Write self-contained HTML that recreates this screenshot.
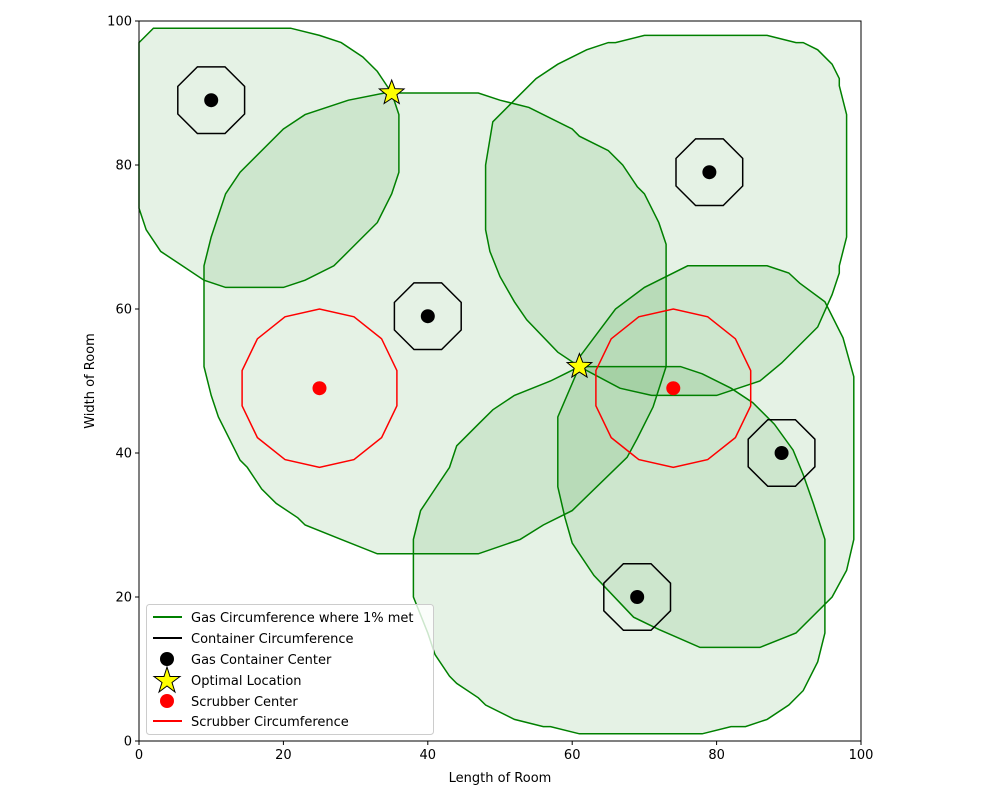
<!DOCTYPE html>
<html><head><meta charset="utf-8"><style>
body{margin:0;background:#fff;}
svg text{font-family:"DejaVu Sans","Liberation Sans",sans-serif;font-size:13px;fill:#000;}
</style></head><body>
<svg id="chart" width="1000" height="800" xmlns="http://www.w3.org/2000/svg">
<rect width="1000" height="800" fill="#fff"/>
<g id="plot"></g>
<g id="axes"></g>
<g id="legend" transform="translate(146,604)">
<rect x="0.5" y="0.5" width="287" height="130" rx="3" fill="#fff" fill-opacity="0.8" stroke="#ccc"/>
<line x1="7" y1="13" x2="36" y2="13" stroke="green" stroke-width="2"/>
<text x="45" y="18">Gas Circumference where 1% met</text>
<line x1="7" y1="34" x2="36" y2="34" stroke="#000" stroke-width="2"/>
<text x="45" y="39">Container Circumference</text>
<circle cx="21" cy="55" r="7" fill="#000"/>
<text x="45" y="60">Gas Container Center</text>
<path d="M21,63 L24,72.5 L34,72.5 L26,78.5 L29,88 L21,82 L13,88 L16,78.5 L8,72.5 L18,72.5 Z" fill="yellow" stroke="#000" stroke-width="1"/>
<text x="45" y="81">Optimal Location</text>
<circle cx="21" cy="97" r="7" fill="red"/>
<text x="45" y="102">Scrubber Center</text>
<line x1="7" y1="117" x2="36" y2="117" stroke="red" stroke-width="2"/>
<text x="45" y="122">Scrubber Circumference</text>
</g>
</svg>
<script>
const gasRegions = [
 [[0,97],[2,99],[21,99],[25,98],[28,97],[31,95],[33,93],[35,90],[36,87],[36,79],[35,76],[33,72],[31,70],[29,68],[27,66],[23,64],[20,63],[12,63],[9,64],[6,66],[3,68],[1,71],[0,74],[0,78]],
 [[9,66],[10,70],[12,76],[14,79],[20,85],[23,87],[29,89],[34,90],[47,90],[50,89],[54,88],[60,85],[61,84],[63,83],[65,82],[67,80],[69,77],[70,76],[72,72],[73,69],[73,66],[73,52],[71.2,46.4],[69,42],[67.6,39.4],[60,32],[56,30],[52.8,28],[47,26],[33,26],[28,28],[23,30],[22,31],[19,33],[17,35],[15,38],[14,39],[11,45],[10,48],[9,52]],
 [[49,86],[52,89],[55,92],[58,94],[62,96],[65,97],[66,97],[70,98],[87,98],[91,97],[92,97],[94,96],[96,94],[97,92],[97,91],[98,87],[98,70],[97,66],[97,65],[96,62],[94,57.5],[89,52.5],[86,50],[80,48],[71,48],[66.6,49],[61,52],[58,54],[53.7,58.5],[52,61],[50,64.5],[48.6,68],[48,71],[48,80]],
 [[58,45],[58,35.3],[59,31],[60,27.5],[63,23],[68.5,17.2],[72,15.5],[77.7,13],[86,13],[91,15],[96,20],[98,23.7],[99,28],[99,50.6],[97.5,56],[95,61],[91.5,63.6],[90,65],[87,66],[76,66],[70,63],[66,60],[63,56],[61,53.3],[61,52]],
 [[61,52],[75,52],[78,51],[82,49],[85,47],[88,44],[90.6,40.4],[92,37],[93.4,33],[95,28],[95,15],[94,11],[92,7],[90,5],[87,3],[84,2],[82,2],[78,1],[61,1],[57,2],[56,2],[52,3],[48,5],[47,6],[44,8],[43,9],[41,12],[40,15],[38,20],[38,28],[39,32],[41,35],[43,38],[44,41],[47,44],[49,46],[52,48],[57,50],[59,51]]
];
const containerX = [10,79,40,89,69];
const containerY = [89,79,59,40,20];
const containerR = [5,5,5,5,5];
const scrubberX = [25,74];
const scrubberY = [49,49];
const scrubberR = [11,11];
const optimalX = [35,61];
const optimalY = [90,52];
const xTicks = [0,20,40,60,80,100];
const yTicks = [0,20,40,60,80,100];

const NS="http://www.w3.org/2000/svg";
const X0=139,X1=861,Y0=741,Y1=21;
function sx(v){return X0+(X1-X0)*v/100;}
function sy(v){return Y0-(Y0-Y1)*v/100;}
const plot=document.getElementById('plot');
const axes=document.getElementById('axes');
function mk(tag,attrs,parent){const e=document.createElementNS(NS,tag);for(const k in attrs)e.setAttribute(k,attrs[k]);parent.appendChild(e);return e;}
function polyPts(pts){return pts.map(p=>sx(p[0]).toFixed(1)+','+sy(p[1]).toFixed(1)).join(' ');}
function circlePts(cx,cy,r,n,rot){const a=[];for(let i=0;i<n;i++){const t=rot+i*2*Math.PI/n;a.push([cx+r*Math.cos(t),cy+r*Math.sin(t)]);}return a;}

gasRegions.forEach((g,i)=>{
 const p=mk('polygon',{points:polyPts(g),fill:'green','fill-opacity':0.1,stroke:'green','stroke-width':1.5},plot);
 
 
});
containerX.forEach((x,i)=>{
 const p=mk('polygon',{points:polyPts(circlePts(x,containerY[i],containerR[i],8,Math.PI/8)),fill:'none',stroke:'#000','stroke-width':1.5},plot);
 
 
 const c=mk('circle',{cx:sx(x),cy:sy(containerY[i]),r:7,fill:'#000'},plot);
 
 
});
scrubberX.forEach((x,i)=>{
 const p=mk('polygon',{points:polyPts(circlePts(x,scrubberY[i],scrubberR[i],14,Math.PI/14)),fill:'none',stroke:'red','stroke-width':1.5},plot);
 
 
 const c=mk('circle',{cx:sx(x),cy:sy(scrubberY[i]),r:7,fill:'red'},plot);
 
 
});
optimalX.forEach((x,i)=>{
 const cx=sx(x),cy=sy(optimalY[i]);const pts=[];
 for(let k=0;k<10;k++){const r=k%2?5.5:13;const t=-Math.PI/2+k*Math.PI/5;pts.push((cx+r*Math.cos(t)).toFixed(1)+','+(cy+r*Math.sin(t)).toFixed(1));}
 const s=mk('polygon',{points:pts.join(' '),fill:'yellow',stroke:'#000','stroke-width':1},plot);
 
 
});
const frame=mk('rect',{x:X0,y:Y1,width:X1-X0,height:Y0-Y1,fill:'none',stroke:'#000','stroke-width':1},axes);


xTicks.forEach(v=>{
 const l=mk('line',{x1:sx(v),y1:Y0,x2:sx(v),y2:Y0+4,stroke:'#000'},axes);
 
 
 const t=mk('text',{x:sx(v),y:Y0+18,'text-anchor':'middle'},axes);t.textContent=v;
 
 
});
yTicks.forEach(v=>{
 const l=mk('line',{x1:X0-4,y1:sy(v),x2:X0,y2:sy(v),stroke:'#000'},axes);
 
 
 const t=mk('text',{x:X0-7,y:sy(v)+4.5,'text-anchor':'end'},axes);t.textContent=v;
 
 
});
const xt=mk('text',{x:500,y:782,'text-anchor':'middle'},axes);xt.textContent='Length of Room';


const yt=mk('text',{x:94,y:381,'text-anchor':'middle',transform:'rotate(-90 94 381)'},axes);yt.textContent='Width of Room';


</script>
</body></html>
